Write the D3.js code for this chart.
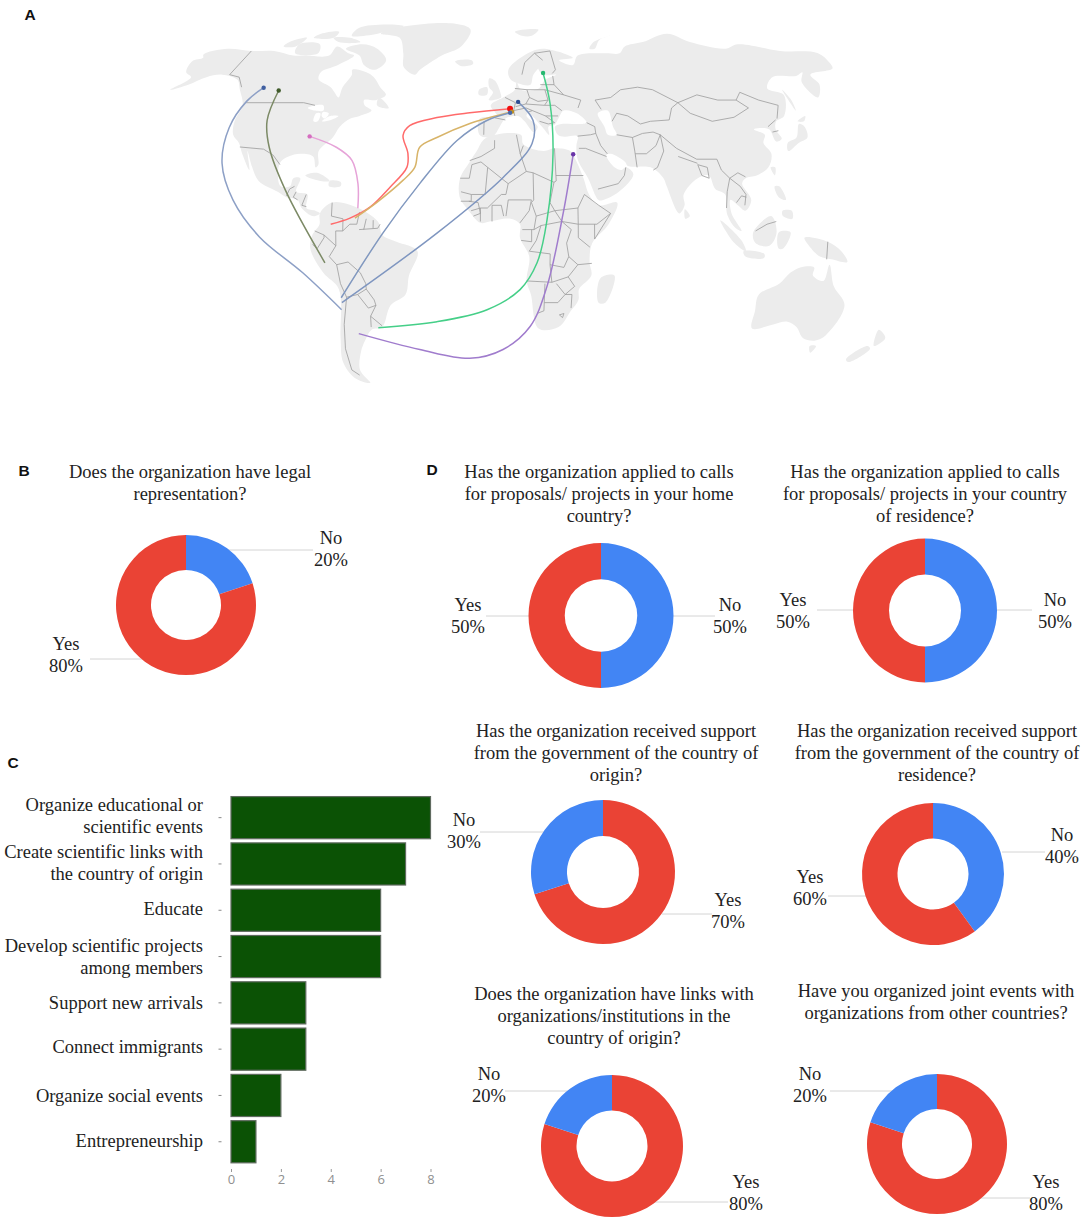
<!DOCTYPE html>
<html><head><meta charset="utf-8">
<script src="https://cdn.jsdelivr.net/npm/d3@7"></script>
<style>
html,body{margin:0;padding:0;background:#fff}
svg{display:block}
.t{font-family:"Liberation Serif",serif;font-size:18.5px;fill:#222}
.p{font-family:"Liberation Sans",sans-serif;font-size:15.5px;font-weight:bold;fill:#111}
</style></head><body>
<svg id="c" width="1084" height="1224"></svg>
<script>
// ---------- map data (lon, lat) ----------
const land = [
 [[-168,65.5],[-164,67],[-166,68.5],[-156,71],[-141,70],[-128,70],[-115,68],[-108,68],[-95,68],[-94,72],[-85,69],[-81,68],[-87,64],[-94,61],[-93,58],[-85,55],[-82,53],[-79,51],[-79,55],[-77,60],[-78,62],[-70,61],[-65,59],[-60,55],[-56,52],[-60,50],[-66,50],[-65,48],[-61,46],[-66,44],[-70,43],[-74,40],[-76,36],[-81,31],[-80,26],[-81,25],[-83,29],[-89,30],[-94,29],[-97,27],[-97,22],[-95,18],[-91,18],[-90,21],[-87,21],[-88,16],[-83,15],[-83,10],[-79,9],[-77,8],[-80,7],[-85,10],[-87,13],[-92,14],[-96,16],[-105,20],[-109,25],[-113,31],[-110,24],[-115,30],[-118,34],[-122,37],[-124,42],[-124,48],[-130,54],[-135,58],[-145,60],[-152,59],[-158,56],[-165,54],[-160,59],[-165,61]],
 [[-80,73],[-70,71],[-62,66],[-66,62],[-73,64],[-78,68],[-88,71]],
 [[-117,73],[-105,73],[-102,69],[-115,69]],
 [[-124,74],[-116,76],[-118,72],[-125,72]],
 [[-90,77],[-75,78],[-62,82],[-75,83],[-90,81]],
 [[-100,76],[-90,76],[-82,74],[-95,74]],
 [[-110,78],[-100,79],[-100,76],[-112,76]],
 [[-73,78],[-60,82],[-30,83.5],[-18,80],[-22,72],[-32,68],[-42,62],[-44,60],[-51,63],[-54,69],[-60,76]],
 [[-59,51],[-53,47],[-56,47],[-59,48]],
 [[-85,22],[-80,23],[-74,20],[-78,20]],
 [[-74,20],[-69,19.5],[-69,18],[-74,18]],
 [[-24,65.5],[-15,66],[-14,64.5],[-20,63.5]],
 [[-5,58.5],[-2,57.5],[1,52],[1,51],[-5,50],[-3,53],[-5,55]],
 [[-10,54],[-6,55],[-6,52],[-10,52]],
 [[10,79],[25,80],[20,77],[14,77]],
 [[52,71],[56,74],[68,77],[60,75],[55,71]],
 [[-77,8],[-72,12],[-62,10.5],[-52,5],[-50,0],[-44,-2.5],[-35,-6],[-39,-15],[-41,-22],[-48,-26],[-53,-34],[-58,-35],[-62,-39],[-65,-43],[-68,-50],[-65,-55],[-72,-53],[-75,-47],[-73,-38],[-70,-20],[-76,-14],[-81,-5],[-80,0],[-77,4]],
 [[-6,35.8],[10,37],[11,33.5],[20,31],[25,32],[32,31],[34,28],[37,21],[39,15],[43,11],[51,12],[47,4],[40,-3],[39,-10],[40,-15],[35,-20],[35,-24],[32,-28],[27,-34],[18,-34.5],[14,-22],[12,-17],[13,-8],[9,-1],[9,4],[5,6],[-4,5],[-8,4.5],[-13,9],[-17,14],[-17,21],[-13,27],[-10,31]],
 [[-9,37],[-9,43],[-1,44],[-4,48],[2,51],[8,54],[9,57],[11,54],[20,54.5],[24,58],[30,60],[23,60],[21,63],[25,65.5],[18,60],[16,56],[12,56],[6,58],[5,62],[14,68],[25,71],[41,67],[33,66],[40,64],[44,68],[60,69],[68,69],[73,72],[85,74],[104,78],[113,74],[130,71],[140,73],[160,70],[180,69],[180,65],[178,62.5],[163,60],[163,56],[157,51],[155,57],[160,61],[155,59.5],[142,59],[135,54.5],[141,52],[135,44],[130,42],[128,39],[129,35.5],[126,34.5],[125,39],[121,39.5],[118,39],[122,37],[120,34],[122,30],[119,25],[113,22],[108,21],[106,19],[109,13],[106,9],[103,11],[100,13],[100,8],[104,1.5],[101,3],[98,8],[98,15],[94,17],[92,22],[87,21],[80,15],[80,11],[77.5,8],[73,18],[72,21],[67,25],[57,25.5],[56,27],[50,30],[48,29.5],[51,25],[54,24],[56,25],[59,22.5],[52,16],[45,13],[43,13],[39,21],[35,28],[35,33],[36,36.5],[30,36.3],[27,37],[26,40],[29,41],[38,41],[41,41.5],[37,45],[31,46],[28,43],[26,40.8],[23,40],[23,37],[20,40],[14,45],[13,44],[18,40],[16,38],[12,42],[9,44],[3,43],[0,39.5],[-2,37],[-5,36]],
 [[44,-16],[50,-15],[47,-25],[44,-25]],
 [[80,9.5],[82,7],[80,6]],
 [[130,31],[136,34],[141,36],[142,40],[140,41],[136,36],[131,34]],
 [[140,42],[145,44],[143,42]],
 [[142,54],[143,50],[142,46]],
 [[120,25],[122,25],[121,22]],
 [[95,5.5],[104,-2],[106,-6],[101,-3]],
 [[105,-6],[114,-7],[114,-8.5],[106,-8]],
 [[109,1],[117,7],[119,1],[116,-4],[110,-3]],
 [[120,1],[125,1],[122,-5],[120,-5]],
 [[120,18],[122,18],[124,13],[121,14]],
 [[122,9],[126,9],[126,6],[122,7]],
 [[131,-1],[141,-2.5],[147,-6],[150,-10],[143,-9],[138,-8],[133,-4]],
 [[114,-22],[122,-18],[126,-14],[130,-12],[136,-12],[136,-15],[141,-17],[142.5,-11],[146,-19],[153,-26],[150,-37],[146,-39],[140,-38],[135,-34],[130,-32],[124,-33],[115,-34.5],[114,-28]],
 [[145,-41],[148,-41],[147,-43.5]],
 [[173,-35],[178,-38],[175,-41]],
 [[172,-41],[174,-42],[168,-47],[166,-46]]
];
const holes = [
 [[47,45],[52,46],[53,40],[54,37],[50,37],[49,40]],
 [[-92,47],[-85,48],[-84,46],[-88,46]],
 [[-87,45],[-85,45],[-85,42],[-87,42]],
 [[-84,45.5],[-81,45],[-82,43],[-84,44]],
 [[-80,44],[-76,44],[-79,42.5],[-83,42]]
];
const borders = [
 [[-141,70],[-141,60],[-135,59],[-130,55]],[[-123,49],[-95,49],[-89,48]],
 [[-117,32.5],[-106,31.7],[-101,29.5],[-97,26]],[[-92,14.5],[-91,17],[-89,18]],[[-88,16],[-89,14],[-87,13]],[[-83.5,15],[-85,11],[-83,10.5]],
 [[-72,12],[-72,7],[-67,6],[-67,1.5]],[[-60,8.5],[-61,4],[-64,4],[-67,1.5]],[[-57,6],[-58,2]],[[-54,5.5],[-54,2.5]],[[-60,2],[-52,2.5],[-51,4]],
 [[-79,1.5],[-75,0],[-70,-4],[-70,1.5],[-67,1.5]],[[-80,-3.5],[-78,-5],[-75,-1],[-75,0]],[[-70,-4],[-73,-8],[-70,-11]],
 [[-70,-11],[-65,-10],[-60,-14],[-58,-18],[-58,-20],[-62,-22],[-67,-23],[-69,-18],[-70,-11]],[[-67,-23],[-70,-33],[-72,-42],[-72,-50],[-69,-52]],
 [[-58,-20],[-55,-24],[-54.5,-26],[-58,-27],[-62,-22]],[[-54.5,-26],[-57.5,-30],[-58,-34]],[[-57.5,-30],[-53,-33.5]],
 [[-2,35],[-2,32],[-8,29],[-13,27.5]],[[-17,21],[-13,21],[-12,26],[-8,27],[-5,25],[-6,15],[-12,15],[-16.5,16]],
 [[-5,25],[1,21],[4,19],[12,23.5],[9.5,30],[8,37]],[[11,33],[9.5,30]],[[25,32],[25,20]],[[12,23.5],[15,23],[24,19.5],[25,20]],[[25,22],[37,22]],
 [[24,19.5],[22,12],[24,9]],[[15,23],[15,13],[14,12]],[[4,19],[3,15],[1,15],[-5,10],[-8,10]],[[3,7],[4,13],[14,13],[13,9],[9,4.5]],
 [[-3,5],[-3,11],[1,11],[2,7]],[[-8,5],[-8,10],[-12,9]],[[-13,12.5],[-9,12],[-8,8],[-11,7]],[[-16.5,12.5],[-12,12.5],[-12,15]],
 [[14,12],[16,7],[15,2],[10,2]],[[16,7],[24,9],[27,5],[18,3.5],[15,2]],[[24,9],[34,10],[34,4],[27,5]],[[37,15],[43,11],[48,8],[42,4],[34,4]],[[37,15],[34,10]],
 [[48,8],[41,-1.5],[41,4]],[[34,4],[34,-1],[39,-4.5]],[[27,5],[31,2],[29,-3],[30,-8],[28,-12],[22,-11],[22,-7],[13,-6],[16,-2],[18,3.5]],[[9.5,-2],[14,-2.5],[14,2]],
 [[30,-8],[34,-11],[40,-10.5]],[[12,-17],[23,-17.5],[22,-11]],[[23,-17.5],[30,-15.5],[34,-11]],[[20,-18],[20,-28],[17,-29]],[[20,-25],[26,-25],[29,-22],[32,-22]],
 [[25,-18],[29,-22],[33,-19],[30,-15.5]],[[32,-22],[32,-27]],[[27,-29.5],[29,-29],[28.5,-30.5],[27,-29.5]],
 [[-2,43.3],[3,42.5]],[[-7,42],[-7,37]],[[3,51],[8,49],[7,46],[7.5,44]],[[8,54.5],[14,54],[15,51],[13,48.5],[8,47.5]],[[7,46],[13,47],[16,46],[14,45.5]],
 [[14,54],[23,54],[24,50],[19,49.5],[15,51]],[[21,56],[28,56],[28,59.5]],[[23,54],[32,52],[40,50],[38,47]],[[24,50],[22,48],[27,48],[30,46]],[[13,48.5],[22,48]],
 [[16,46],[22,44],[28,44]],[[19,42],[23,41],[26,41.5],[22,44]],[[12,60],[14,65],[20,69],[29,70]],[[29,70],[30,62],[28,60.5]],[[20,69],[24,66]],[[28,56],[32,52]],
 [[36,36.5],[42,37],[44.5,37.5]],[[41,41.5],[44.5,40],[44.5,37.5]],[[44.5,37.5],[46,33],[48.5,30]],[[48,29],[39,32],[36,32]],[[43,17],[52,19],[55,22],[56,25]],
 [[54,37],[61,36],[61,31],[61,25]],[[61,36],[66,37.5],[71,38],[74,37],[71,33],[66,30],[61,30]],[[49,46.5],[47,50],[55,51],[61,54],[70,55],[77,54],[87,49]],
 [[53,42],[56,45],[61,44],[66,41],[71,42],[80,42.5]],[[80,42.5],[83,47],[87,49]],[[87,49],[98,52],[107,50],[116,50],[120,53],[127,50],[135,48],[131,43]],
 [[87,49],[91,45],[100,42],[111,43.5],[120,47],[116,50]],[[130,42.5],[125,40]],[[126,38],[129,38.5]],[[74,37],[80,32],[88,28],[97,28]],[[74,37],[74,31],[70,25],[68,24]],
 [[80,29],[88,26.5]],[[88,26],[89,22],[92,21],[92,25],[88,26]],[[97,28],[98,24],[101,21],[99,16],[98,10]],[[101,21],[105,23],[108,21.5]],[[101,21],[105,18],[107,15],[106,11]],
 [[102.5,12],[105,14.5],[107,14]],[[110,1.5],[115,4],[119,5]],[[141,-2.5],[141,-9]]
];
// migration flows, head first (lon, lat)
const flowBlueCanada = [[-118.7,54.8],[-123.1,49.6],[-125.2,39.7],[-122.8,26.5],[-114.9,12.9],[-102.7,-0.7],[-84.9,-14],[-70,-27.6]];
const flowOlive = [[-110.3,53.7],[-108.9,42.3],[-103.7,32.4],[-92.7,16.5],[-75,-10.3]];
const flowPink = [[-86.7,36.4],[-73.4,32.4],[-65.4,27.6],[-61.5,19],[-60.8,9.9]];
const flowRed = [[5.3,46.7],[-13.9,45.2],[-29.3,43.4],[-41.6,40.4],[-44,36.8],[-40.8,30.1],[-40.7,25],[-47.5,17.6],[-55.6,10.3],[-64,6.25],[-72.2,4]];
const flowGold = [[6.2,45.6],[-13.6,41.2],[-28.4,36],[-35.8,32.4],[-37.2,25],[-42,20.2],[-52.7,12.1],[-61.9,6.25]];
const flowBlueFrance = [[5.3,45.2],[-5.7,42.3],[-19.1,34.9],[-34.5,19.1],[-49.8,0.7],[-69.4,-23.2]];
const flowBlueGermany = [[9.3,49.3],[16,42.3],[15,33.8],[1.8,21.3],[-26.6,0.7],[-69.4,-25]];
const flowGreen = [[23.2,60.7],[24.8,48.5],[24.2,30.1],[20.6,5.5],[16.4,-10.3],[9.2,-20.2],[-5.3,-27.6],[-27.9,-32],[-54.8,-34.2]];
const flowPurple = [[33.2,29.8],[27.6,8.1],[20.9,-19.1],[14.1,-33.8],[1.9,-42.3],[-13.9,-45.6],[-37.2,-42.3],[-64.2,-36.4]];
const flowColors = ["#8da0c6","#7c8a66","#e6a3d8","#ff6b6b","#d8b469","#8198bf","#7f96c0","#45cf88","#a07ccd"];
const flowHeads = ["#3f5fa0","#3f5a2a","#d56ec0","#f01010","#c09020","#4a69a8","#2f4f95","#25b870","#6a35a8"];
// ---------- bar data ----------
const barCategories = [["Organize educational or","scientific events"],["Create scientific links with","the country of origin"],["Educate"],["Develop scientific projects","among members"],["Support new arrivals"],["Connect immigrants"],["Organize social events"],["Entrepreneurship"]];
const barValues = [8,7,6,6,3,3,2,1];
const barTicks = [0,2,4,6,8];
// ---------- donut data ----------
const donutTitles = [
 ["Does the organization have legal","representation?"],
 ["Has the organization applied to calls","for proposals/ projects in your home","country?"],
 ["Has the organization applied to calls","for proposals/ projects in your country","of residence?"],
 ["Has the organization received support","from the government of the country of","origin?"],
 ["Has the organization received support","from the government of the country of","residence?"],
 ["Does the organization have links with","organizations/institutions in the","country of origin?"],
 ["Have you organized joint events with","organizations from other countries?"]
];
const donutNo = [20,50,50,30,40,20,20];
const donutYes = [80,50,50,70,60,80,80];
const donutNoFirst = [true,true,true,false,true,false,false];
// layout only
const labelNudge = [0,1,0,2,2,-1,2,1];
const layouts = [
 {c:[186,605],r:70,tx:190,ty:478,no:[331,544],yes:[66,650],ln:[[225,550],[313,550]],ly:[[90,659],[145,659]]},
 {c:[601,615.5],r:72.5,tx:599,ty:478,no:[730,611],yes:[468,611],ln:[[672,616],[715,616]],ly:[[486,616],[530,616]]},
 {c:[925,610.5],r:72,tx:925,ty:478,no:[1055,606],yes:[793,606],ln:[[997,610],[1032,610]],ly:[[817,610],[853,610]]},
 {c:[603,872],r:72,tx:616,ty:737,no:[464,826],yes:[728,906],ln:[[480,832],[545,832]],ly:[[662,914],[712,914]]},
 {c:[933,874],r:71,tx:937,ty:737,no:[1062,841],yes:[810,883],ln:[[1002,852],[1045,852]],ly:[[828,896],[868,896]]},
 {c:[612,1146],r:71,tx:614,ty:1000,no:[489,1080],yes:[746,1188],ln:[[505,1091],[575,1091]],ly:[[650,1202],[728,1202]]},
 {c:[937,1144],r:70,tx:936,ty:997,no:[810,1080],yes:[1046,1188],ln:[[830,1091],[900,1091]],ly:[[975,1198],[1030,1198]]}
];

const svg = d3.select("#c");
const defs = svg.append("defs");
defs.append("filter").attr("id","soft").append("feGaussianBlur").attr("stdDeviation",0.6);
defs.append("filter").attr("id","soft2").append("feGaussianBlur").attr("stdDeviation",0.4);

// ---------- map ----------
const projection = d3.geoNaturalEarth1().scale(153.5).translate([499,235]).precision(0.3);
const mapG = svg.append("g").attr("filter","url(#soft)");
const ringLine = d3.line().x(d=>projection(d)[0]).y(d=>projection(d)[1]).curve(d3.curveCatmullRomClosed.alpha(0.5));
const borderLine = d3.line().x(d=>projection(d)[0]).y(d=>projection(d)[1]);
mapG.selectAll("path.land").data(land).join("path").attr("class","land")
  .attr("d",ringLine).attr("fill","#ececec");
mapG.selectAll("path.hole").data(holes).join("path").attr("class","hole")
  .attr("d",ringLine).attr("fill","#fff");
mapG.selectAll("path.border").data(borders).join("path").attr("class","border")
  .attr("d",borderLine).attr("fill","none").attr("stroke","#9c9c9c").attr("stroke-width",0.8);

const flows = [flowBlueCanada,flowOlive,flowPink,flowRed,flowGold,flowBlueFrance,flowBlueGermany,flowGreen,flowPurple];
const flowLine = d3.line().x(d=>projection(d)[0]).y(d=>projection(d)[1]).curve(d3.curveCatmullRom.alpha(0.5));
const flowG = svg.append("g").attr("filter","url(#soft2)");
flowG.selectAll("path").data(flows).join("path").attr("d",flowLine).attr("fill","none")
  .attr("stroke",(d,i)=>flowColors[i]).attr("stroke-width",1.5);
flowG.selectAll("circle").data(flows).join("circle")
  .attr("cx",d=>projection(d[0])[0]).attr("cy",d=>projection(d[0])[1])
  .attr("r",(d,i)=>i===3?3:2.2).attr("fill",(d,i)=>flowHeads[i]);

// ---------- panel letters ----------
[["A",30,20],["B",24,476],["C",13,768],["D",432,475]].forEach(p=>{
  svg.append("text").attr("class","p").attr("text-anchor","middle").attr("x",p[1]).attr("y",p[2]).text(p[0]);
});

// ---------- bars ----------
const xBar = d3.scaleLinear().domain([0,8]).range([231,430.5]);
const yBar = d3.scaleBand().domain(d3.range(barValues.length)).range([794.5,1164.9]).paddingInner(0.09).paddingOuter(0.045);
const barG = svg.append("g");
barG.selectAll("rect").data(barValues).join("rect")
  .attr("x",xBar(0)).attr("y",(d,i)=>yBar(i)).attr("width",d=>xBar(d)-xBar(0)).attr("height",yBar.bandwidth())
  .attr("fill","#0b5205").attr("stroke","#5f6a5f").attr("stroke-width",1.2);
barG.selectAll("line").data(barValues).join("line")
  .attr("x1",218.5).attr("x2",221.5).attr("y1",(d,i)=>yBar(i)+yBar.bandwidth()/2).attr("y2",(d,i)=>yBar(i)+yBar.bandwidth()/2)
  .attr("stroke","#888");
barCategories.forEach((lines,i)=>{
  const cy=yBar(i)+yBar.bandwidth()/2+labelNudge[i];
  const t=barG.append("text").attr("class","t").attr("text-anchor","end");
  lines.forEach((l,j)=>t.append("tspan").attr("x",203)
    .attr("y",cy+5.5+(lines.length===2?(j?10:-12):-1)).text(l));
});
const xAxis = d3.axisBottom(xBar).tickValues(barTicks).tickSize(3).tickPadding(3);
const ax = svg.append("g").attr("transform","translate(0,1169)").call(xAxis);
ax.select(".domain").remove();
ax.selectAll("line").attr("stroke","#999");
ax.selectAll("text").attr("fill","#909090").attr("font-family","'Open Sans',sans-serif").attr("font-size",13);

// ---------- donuts ----------
layouts.forEach((L,i)=>{
  const g = svg.append("g");
  const t = g.append("text").attr("class","t").attr("text-anchor","middle");
  donutTitles[i].forEach((l,j)=>t.append("tspan").attr("x",L.tx).attr("y",L.ty+22*j).text(l));
  const slices = donutNoFirst[i]
    ? [{k:"No",v:donutNo[i],f:"#4285f4"},{k:"Yes",v:donutYes[i],f:"#ea4335"}]
    : [{k:"Yes",v:donutYes[i],f:"#ea4335"},{k:"No",v:donutNo[i],f:"#4285f4"}];
  const pie = d3.pie().sort(null).value(d=>d.v);
  const arc = d3.arc().innerRadius(L.r*0.5).outerRadius(L.r);
  [L.ln,L.ly].forEach(s=>g.append("line").attr("x1",s[0][0]).attr("y1",s[0][1]).attr("x2",s[1][0]).attr("y2",s[1][1]).attr("stroke","#d4d4d4"));
  g.append("g").attr("transform",`translate(${L.c})`).selectAll("path").data(pie(slices)).join("path")
    .attr("d",arc).attr("fill",d=>d.data.f);
  const lab=(pos,name,val)=>{
    const x=g.append("text").attr("class","t").attr("text-anchor","middle");
    x.append("tspan").attr("x",pos[0]).attr("y",pos[1]).text(name);
    x.append("tspan").attr("x",pos[0]).attr("y",pos[1]+22).text(val+"%");
  };
  lab(L.no,"No",donutNo[i]);
  lab(L.yes,"Yes",donutYes[i]);
});
</script></body></html>
